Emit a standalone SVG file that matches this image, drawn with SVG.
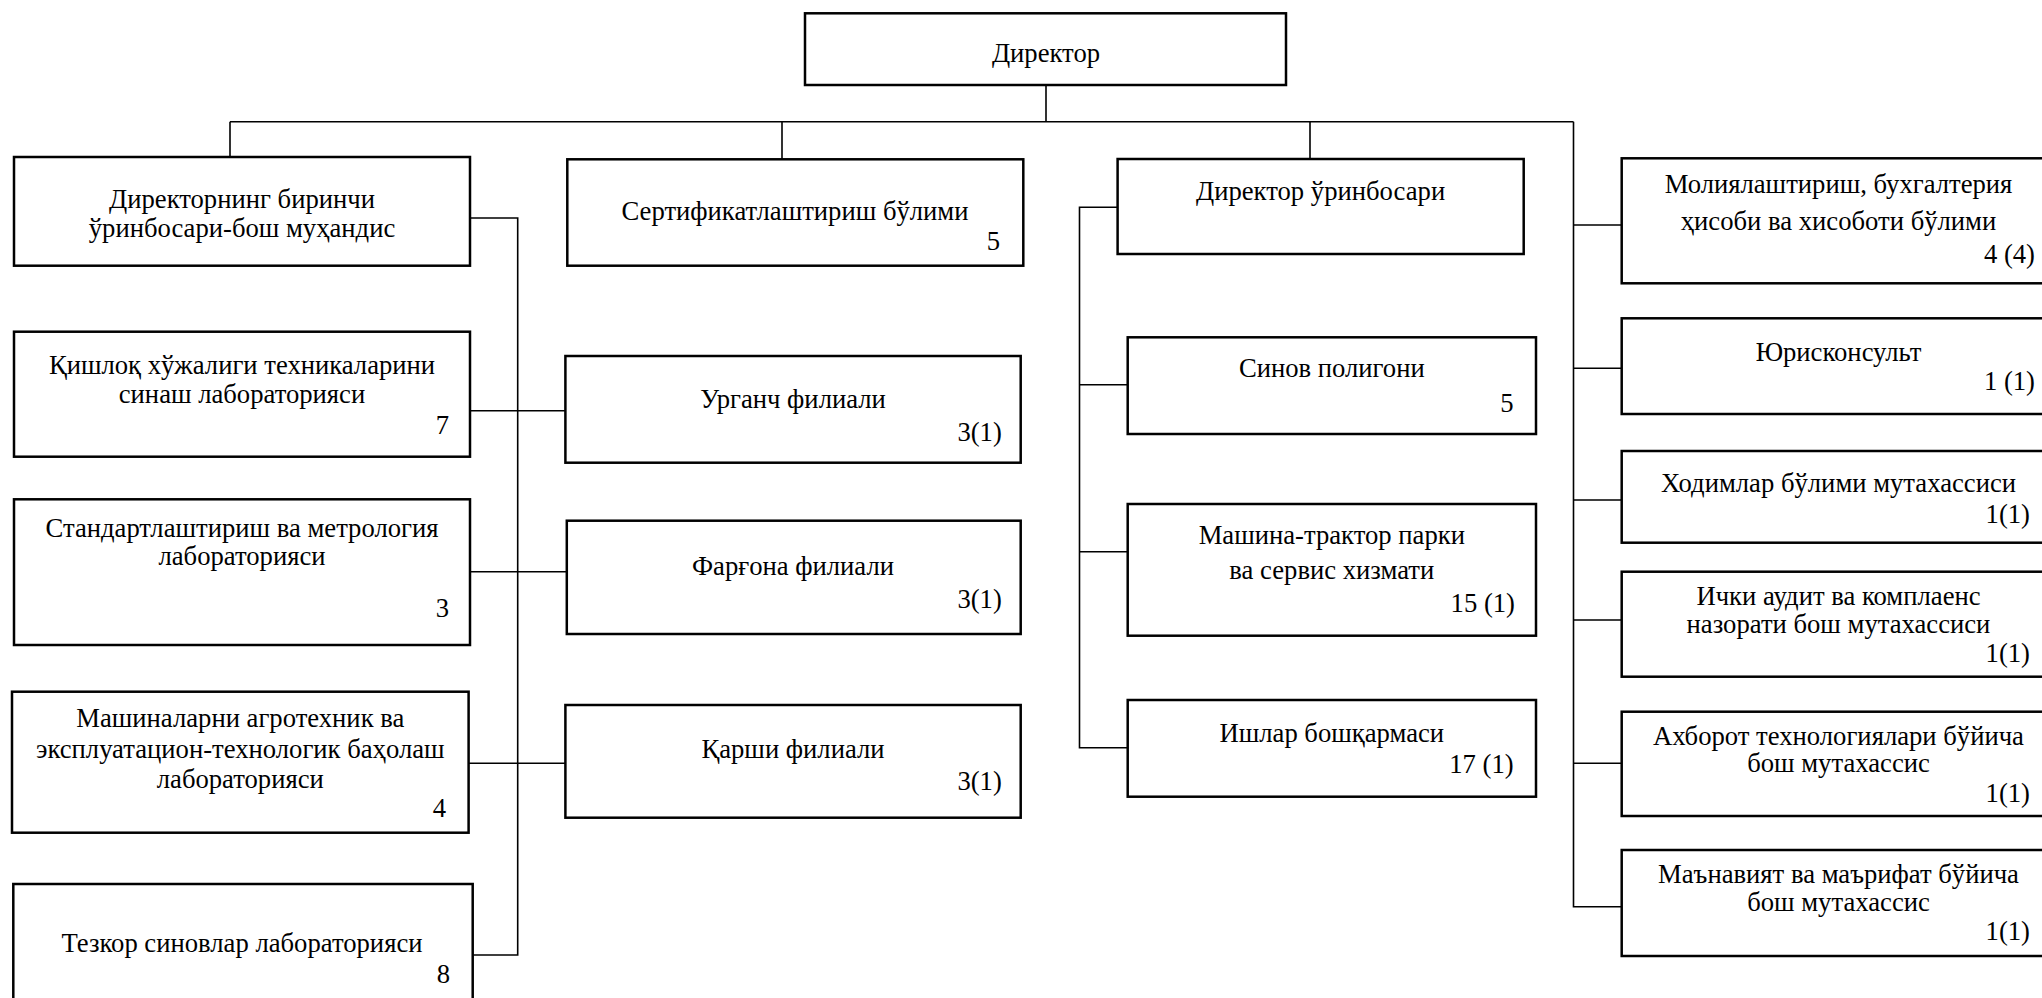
<svg xmlns="http://www.w3.org/2000/svg" width="2042" height="998" viewBox="0 0 2042 998">
<style>
.box{fill:#fff;stroke:#000;stroke-width:2.5}
.ln{fill:none;stroke:#000;stroke-width:1.6}
text{font-family:"Liberation Serif","Times New Roman",serif;font-size:26.67px;fill:#000}
.c{text-anchor:middle}
.r{text-anchor:end}
</style>
<rect width="2042" height="998" fill="#fff"/>
<g id="connectors">
<path class="ln" d="M1046 85V121.7M230 121.7H1573.5M230 121.7V157M782 121.7V159M1310 121.7V159"/>
<path class="ln" d="M470 218H517.7V955H472M470 410.7H565.4M470 571.7H566.8M468.6 763.3H565.4"/>
<path class="ln" d="M1117.6 207.3H1079.5V747.7H1127.7M1079.5 384.7H1127.7M1079.5 551.7H1127.7"/>
<path class="ln" d="M1573.5 121.7V906.7H1621.7M1573.5 225H1621.7M1573.5 368.3H1621.7M1573.5 500H1621.7M1573.5 620H1621.7M1573.5 763.3H1621.7"/>
</g>
<g font-family="Liberation Serif, Times New Roman, serif">
<g id="n-director"><rect class="box" x="805" y="13.3" width="481" height="71.7"/><text class="c" x="1046" y="61.7">Директор</text></g>
<g id="n-first-deputy"><rect class="box" x="14" y="157" width="456" height="108.7"/><text class="c" x="242" y="207.5">Директорнинг биринчи</text><text class="c" x="242" y="237">ўринбосари-бош муҳандис</text></g>
<g id="n-cert"><rect class="box" x="567.3" y="159.3" width="456" height="106.4"/><text class="c" x="795" y="220">Сертификатлаштириш бўлими</text><text class="r" x="1000" y="250">5</text></g>
<g id="n-deputy"><rect class="box" x="1117.6" y="159" width="406.1" height="95"/><text class="c" x="1320.6" y="200">Директор ўринбосари</text></g>
<g id="n-finance"><rect class="box" x="1621.7" y="158.3" width="432" height="125"/><text class="c" x="1838.5" y="193.3">Молиялаштириш, бухгалтерия</text><text class="c" x="1838.5" y="230">ҳисоби ва хисоботи бўлими</text><text class="r" x="2035" y="263.3">4 (4)</text></g>
<g id="n-agri-lab"><rect class="box" x="14" y="331.7" width="456" height="125"/><text class="c" x="242" y="374">Қишлоқ хўжалиги техникаларини</text><text class="c" x="242" y="403.3">синаш лабораторияси</text><text class="r" x="449" y="434">7</text></g>
<g id="n-urgench"><rect class="box" x="565.4" y="356" width="455.3" height="106.7"/><text class="c" x="793" y="408.3">Урганч филиали</text><text class="r" x="1001.8" y="440.7">3(1)</text></g>
<g id="n-polygon"><rect class="box" x="1127.7" y="337.3" width="408.3" height="96.7"/><text class="c" x="1331.8" y="376.7">Синов полигони</text><text class="r" x="1513.7" y="411.7">5</text></g>
<g id="n-lawyer"><rect class="box" x="1621.7" y="318.3" width="432" height="95.7"/><text class="c" x="1838.5" y="360.7">Юрисконсульт</text><text class="r" x="2035" y="390">1 (1)</text></g>
<g id="n-hr"><rect class="box" x="1621.7" y="451" width="432" height="91.7"/><text class="c" x="1838.5" y="491.7">Ходимлар бўлими мутахассиси</text><text class="r" x="2030" y="523.3">1(1)</text></g>
<g id="n-std-lab"><rect class="box" x="14" y="499.3" width="456" height="145.7"/><text class="c" x="242" y="536.7">Стандартлаштириш ва метрология</text><text class="c" x="242" y="565">лабораторияси</text><text class="r" x="449" y="617.3">3</text></g>
<g id="n-fergana"><rect class="box" x="566.8" y="520.7" width="453.9" height="113.3"/><text class="c" x="793" y="575">Фарғона филиали</text><text class="r" x="1001.8" y="608.3">3(1)</text></g>
<g id="n-mtp"><rect class="box" x="1127.7" y="504" width="408.3" height="131.7"/><text class="c" x="1331.8" y="544">Машина-трактор парки</text><text class="c" x="1331.8" y="579.3">ва сервис хизмати</text><text class="r" x="1515" y="611.7">15 (1)</text></g>
<g id="n-audit"><rect class="box" x="1621.7" y="571.7" width="432" height="105"/><text class="c" x="1838.5" y="605">Ички аудит ва комплаенс</text><text class="c" x="1838.5" y="632.7">назорати бош мутахассиси</text><text class="r" x="2030" y="661.7">1(1)</text></g>
<g id="n-agrotech-lab"><rect class="box" x="12" y="691.7" width="456.6" height="141"/><text class="c" x="240.3" y="727.3">Машиналарни агротехник ва</text><text class="c" x="240.3" y="758.3">эксплуатацион-технологик баҳолаш</text><text class="c" x="240.3" y="787.7">лабораторияси</text><text class="r" x="446" y="816.7">4</text></g>
<g id="n-karshi"><rect class="box" x="565.4" y="705" width="455.3" height="112.7"/><text class="c" x="793" y="758.3">Қарши филиали</text><text class="r" x="1001.8" y="790">3(1)</text></g>
<g id="n-works"><rect class="box" x="1127.7" y="700" width="408.3" height="96.7"/><text class="c" x="1331.8" y="741.7">Ишлар бошқармаси</text><text class="r" x="1513.7" y="773.3">17 (1)</text></g>
<g id="n-it"><rect class="box" x="1621.7" y="711.7" width="432" height="104.3"/><text class="c" x="1838.5" y="745">Ахборот технологиялари бўйича</text><text class="c" x="1838.5" y="771.7">бош мутахассис</text><text class="r" x="2030" y="801.7">1(1)</text></g>
<g id="n-spirit"><rect class="box" x="1621.7" y="850" width="432" height="106"/><text class="c" x="1838.5" y="883.3">Маънавият ва маърифат бўйича</text><text class="c" x="1838.5" y="910.7">бош мутахассис</text><text class="r" x="2030" y="940">1(1)</text></g>
<g id="n-express-lab"><rect class="box" x="13.3" y="884" width="459.4" height="125"/><text class="c" x="242" y="951.7">Тезкор синовлар лабораторияси</text><text class="r" x="450" y="983.3">8</text></g>
</g>
</svg>
